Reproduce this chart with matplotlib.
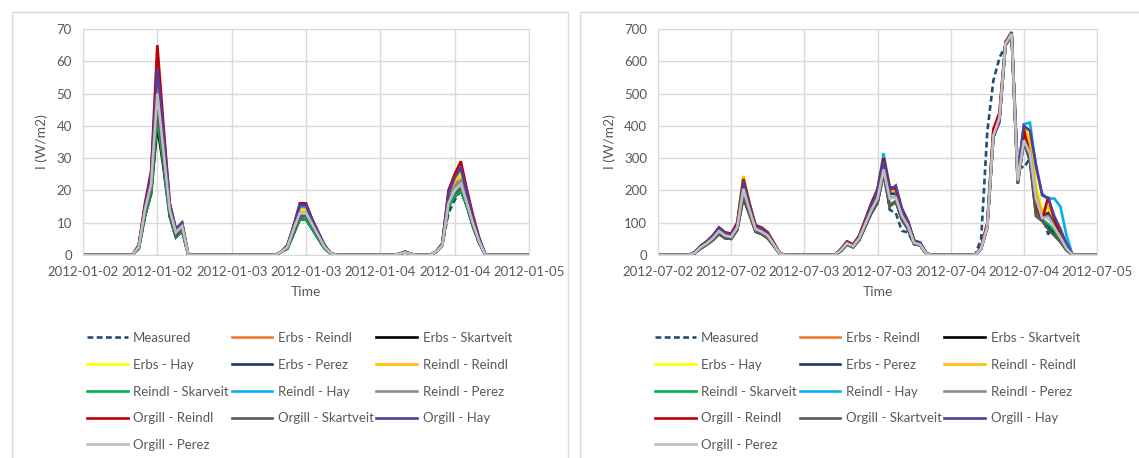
import matplotlib.pyplot as plt
import numpy as np
from matplotlib.patches import Rectangle

plt.rcParams['font.family'] = ['Lato', 'DejaVu Sans']

# series names (legend order)
names = ['Measured', 'Erbs - Reindl', 'Erbs - Skartveit', 'Erbs - Hay', 'Erbs - Perez',
         'Reindl - Reindl', 'Reindl - Skarveit', 'Reindl - Hay', 'Reindl - Perez',
         'Orgill - Reindl', 'Orgill - Skartveit', 'Orgill - Hay', 'Orgill - Perez']
colors = ['#1F4E79', '#ED7D31', '#000000', '#FFFF00', '#203864',
          '#FFC000', '#00B050', '#00B0F0', '#8C8C8C',
          '#C00000', '#595959', '#553C9A', '#BFBFBF']

# x tick labels (every 12 h)
jan_ticks = ['2012-01-02', '2012-01-02', '2012-01-03', '2012-01-03', '2012-01-04', '2012-01-04', '2012-01-05']
jul_ticks = ['2012-07-02', '2012-07-02', '2012-07-03', '2012-07-03', '2012-07-04', '2012-07-04', '2012-07-05']

# ---- January, hours with daylight (other hours are 0)
jan_hours = [8, 9, 10, 11, 12, 13, 14, 15, 16, 17,
             32, 33, 34, 35, 36, 37, 38, 39, 40, 41,
             51, 52, 53, 54, 55, 56, 57, 58, 59, 60, 61, 62, 63, 64, 65]

jan_measured = [0, 2, 12, 20, 44, 28, 12, 5.5, 7.5, 0,
                1, 2, 7, 12, 12, 8.5, 5, 2, 0.5, 0,
                0.3, 0.8, 0.3, 0, 0, 0, 1, 3, 13, 17, 20, 15, 8.5, 3.5, 0]
jan_erbs_reindl = [0, 3, 15, 24, 54, 35, 15, 7, 9, 0,
                   1, 3, 8.5, 14, 14, 10, 6, 3, 0.5, 0,
                   0.3, 1, 0.3, 0, 0, 0, 1, 3.5, 18, 22, 25, 18, 10, 4.5, 0]
jan_erbs_skartveit = [0, 2, 12, 19, 40, 27, 12, 5.5, 7.5, 0,
                      1, 2, 6.5, 11, 11, 8, 5, 2, 0.5, 0,
                      0.3, 0.8, 0.3, 0, 0, 0, 1, 3, 15, 18, 20, 15, 8.5, 3.5, 0]
jan_erbs_hay = [0, 3, 15, 24, 55, 36, 15, 7.5, 9.5, 0,
                1, 3, 8.5, 14, 14, 10, 6.5, 3, 0.5, 0,
                0.3, 1, 0.3, 0, 0, 0, 1, 3.5, 18, 23, 25, 18, 10.5, 4.5, 0]
jan_erbs_perez = [0, 2.5, 14, 22, 50, 33, 14, 7, 9, 0,
                  1, 2.5, 8, 13, 13, 9.5, 6, 2.5, 0.5, 0,
                  0.3, 0.8, 0.3, 0, 0, 0, 1, 3, 17, 21, 23, 17, 10, 4, 0]
jan_reindl_reindl = [0, 3, 15, 24, 56, 36, 15, 7.5, 9.5, 0,
                     1, 3, 8.5, 14.5, 14.5, 10, 6.5, 3, 0.5, 0,
                     0.3, 1, 0.3, 0, 0, 0, 1, 3.5, 18, 23, 26, 18, 10.5, 4.5, 0]
jan_reindl_skarveit = [0, 2, 12, 19, 42, 28, 12, 5.5, 7.5, 0,
                       1, 2, 6.5, 11, 11, 8, 5, 2, 0.5, 0,
                       0.3, 0.8, 0.3, 0, 0, 0, 1, 3, 15, 18, 20, 15, 8.5, 3.5, 0]
jan_reindl_hay = [0, 3, 15, 25, 58, 37, 15, 7.5, 9.5, 0,
                  1, 3, 8.5, 15, 15, 10.5, 6.5, 3, 0.5, 0,
                  0.3, 1, 0.3, 0, 0, 0, 1, 3.5, 19, 24, 27, 19, 11, 4.5, 0]
jan_reindl_perez = [0, 2.5, 14, 22, 52, 33, 14, 7, 9, 0,
                    1, 2.5, 8, 13, 13, 9.5, 6, 2.5, 0.5, 0,
                    0.3, 0.8, 0.3, 0, 0, 0, 1, 3, 17, 21, 23, 17, 10, 4, 0]
jan_orgill_reindl = [0, 3, 16, 26, 65, 40, 16, 8, 10, 0,
                     1, 3, 9, 16, 16, 11, 7, 3, 0.5, 0,
                     0.3, 1, 0.3, 0, 0, 0, 1, 3.5, 20, 25, 29, 20, 12, 5, 0]
jan_orgill_skartveit = [0, 2.5, 13, 20, 45, 30, 13, 6, 8, 0,
                        1, 2.5, 7, 12, 12, 9, 5.5, 2.5, 0.5, 0,
                        0.3, 0.8, 0.3, 0, 0, 0, 1, 3, 16, 19, 21, 16, 9, 4, 0]
jan_orgill_hay = [0, 3, 15, 25, 58, 38, 16, 8, 10, 0,
                  1, 3, 9, 15.5, 15.5, 11, 7, 3, 0.5, 0,
                  0.3, 1, 0.3, 0, 0, 0, 1, 3.5, 19, 24, 27, 19, 11, 5, 0]
jan_orgill_perez = [0, 2.5, 14, 22, 50, 32, 14, 7, 9, 0,
                    1, 2.5, 8, 13, 13, 9.5, 6, 2.5, 0.5, 0,
                    0.3, 0.8, 0.3, 0, 0, 0, 1, 3, 16, 20, 22, 16, 9.5, 4, 0]

# ---- July
jul_hours = [5, 6, 7, 8, 9, 10, 11, 12, 13, 14, 15, 16, 17, 18, 19, 20, 21,
             29, 30, 31, 32, 33, 34, 35, 36, 37, 38, 39, 40, 41, 42, 43, 44, 45,
             52, 53, 54, 55, 56, 57, 58, 59, 60, 61, 62, 63, 64, 65, 66, 67, 68]

jul_measured = [0, 6, 22, 35, 50, 70, 56, 54, 85, 190, 135, 78, 70, 56, 30, 3, 0,
                0, 14, 35, 26, 50, 95, 140, 175, 270, 140, 130, 75, 70, 34, 30, 3, 0,
                0, 50, 380, 540, 610, 650, 685, 280, 270, 300, 190, 120, 65, 90, 50, 20, 0]
jul_erbs_reindl = [0, 8, 28, 42, 60, 84, 69, 65, 100, 243, 160, 92, 84, 70, 37, 5, 0,
                   0, 18, 42, 32, 60, 108, 158, 200, 290, 200, 200, 138, 100, 43, 37, 5, 0,
                   0, 22, 95, 385, 440, 660, 690, 235, 390, 350, 200, 125, 145, 105, 65, 22, 0]
jul_erbs_skartveit = [0, 5, 20, 32, 46, 65, 52, 50, 78, 178, 126, 72, 65, 52, 28, 3, 0,
                      0, 12, 32, 24, 46, 88, 130, 162, 252, 152, 165, 110, 80, 34, 30, 3, 0,
                      0, 20, 85, 365, 420, 650, 680, 222, 350, 295, 125, 108, 88, 65, 42, 15, 0]
jul_erbs_hay = [0, 8, 28, 42, 60, 84, 69, 66, 100, 245, 160, 92, 84, 70, 37, 5, 0,
                0, 18, 42, 32, 60, 108, 158, 200, 295, 205, 205, 140, 102, 44, 37, 5, 0,
                0, 22, 95, 380, 430, 660, 690, 240, 400, 370, 220, 140, 140, 120, 80, 25, 0]
jul_erbs_perez = [0, 7, 25, 38, 55, 78, 62, 58, 90, 215, 148, 85, 76, 63, 33, 4, 0,
                  0, 16, 38, 28, 54, 100, 148, 185, 280, 190, 190, 130, 95, 40, 34, 4, 0,
                  0, 20, 90, 375, 430, 655, 685, 235, 370, 330, 190, 120, 130, 95, 60, 20, 0]
jul_reindl_reindl = [0, 8, 28, 42, 60, 85, 70, 66, 100, 245, 160, 92, 84, 70, 37, 5, 0,
                     0, 18, 42, 32, 60, 110, 160, 200, 290, 205, 200, 140, 102, 44, 37, 5, 0,
                     0, 22, 95, 385, 440, 660, 690, 240, 395, 350, 200, 130, 150, 110, 70, 25, 0]
jul_reindl_skarveit = [0, 5, 21, 33, 47, 66, 53, 51, 80, 180, 128, 74, 66, 54, 29, 3, 0,
                       0, 13, 33, 25, 47, 90, 132, 165, 255, 155, 168, 112, 82, 35, 31, 3, 0,
                       0, 20, 85, 365, 420, 650, 680, 225, 355, 300, 130, 110, 95, 75, 45, 15, 0]
jul_reindl_hay = [0, 8, 27, 40, 58, 82, 66, 63, 95, 232, 155, 88, 80, 66, 35, 5, 0,
                  0, 18, 40, 30, 58, 108, 160, 200, 315, 210, 205, 135, 100, 42, 36, 5, 0,
                  0, 20, 90, 375, 420, 660, 685, 240, 405, 410, 270, 190, 175, 175, 150, 60, 0]
jul_reindl_perez = [0, 6, 24, 36, 52, 75, 60, 56, 86, 205, 142, 82, 73, 60, 32, 4, 0,
                    0, 15, 36, 27, 52, 96, 142, 178, 270, 180, 180, 125, 90, 38, 32, 4, 0,
                    0, 20, 88, 370, 425, 655, 685, 230, 360, 320, 180, 115, 120, 90, 55, 20, 0]
jul_orgill_reindl = [0, 8, 28, 42, 60, 85, 70, 66, 100, 235, 160, 92, 85, 70, 38, 5, 0,
                     0, 18, 42, 32, 60, 110, 160, 205, 300, 210, 205, 140, 105, 45, 38, 5, 0,
                     0, 25, 100, 390, 440, 660, 690, 240, 390, 300, 150, 110, 180, 110, 60, 25, 0]
jul_orgill_skartveit = [0, 5, 20, 32, 46, 65, 52, 50, 78, 175, 125, 72, 65, 52, 28, 3, 0,
                        0, 12, 32, 24, 46, 88, 130, 160, 250, 150, 165, 110, 80, 34, 30, 3, 0,
                        0, 20, 85, 365, 420, 650, 680, 220, 350, 290, 120, 105, 80, 60, 40, 15, 0]
jul_orgill_hay = [0, 8, 28, 42, 60, 85, 68, 64, 95, 230, 155, 90, 82, 68, 36, 5, 0,
                  0, 18, 40, 30, 58, 105, 155, 200, 290, 200, 215, 145, 105, 45, 38, 5, 0,
                  0, 20, 90, 365, 410, 655, 690, 250, 400, 385, 280, 185, 175, 120, 80, 35, 0]
jul_orgill_perez = [0, 6, 24, 36, 52, 74, 60, 56, 86, 205, 140, 80, 72, 60, 32, 4, 0,
                    0, 15, 36, 27, 52, 96, 140, 175, 265, 175, 178, 122, 90, 38, 32, 4, 0,
                    0, 20, 88, 370, 425, 655, 685, 230, 355, 315, 175, 115, 115, 85, 55, 20, 0]

jan_series = [jan_measured, jan_erbs_reindl, jan_erbs_skartveit, jan_erbs_hay, jan_erbs_perez,
              jan_reindl_reindl, jan_reindl_skarveit, jan_reindl_hay, jan_reindl_perez,
              jan_orgill_reindl, jan_orgill_skartveit, jan_orgill_hay, jan_orgill_perez]
jul_series = [jul_measured, jul_erbs_reindl, jul_erbs_skartveit, jul_erbs_hay, jul_erbs_perez,
              jul_reindl_reindl, jul_reindl_skarveit, jul_reindl_hay, jul_reindl_perez,
              jul_orgill_reindl, jul_orgill_skartveit, jul_orgill_hay, jul_orgill_perez]

W, H = 1139, 458
fig = plt.figure(figsize=(W / 100, H / 100), dpi=100)

GRID = '#D9D9D9'
TXT = '#595959'

# panel frames
for x0, x1 in [(12, 568), (580, 1145)]:
    fig.patches.append(Rectangle((x0 / W, -0.05), (x1 - x0) / W, 1.05 - 12 / H,
                                 transform=fig.transFigure, fill=False,
                                 edgecolor=GRID, lw=1))


def panel(rect, hours, series, ymax, ystep, ticks, legend_x):
    ax = fig.add_axes([rect[0] / W, 1 - rect[3] / H, (rect[2] - rect[0]) / W, (rect[3] - rect[1]) / H])
    t = np.arange(73)
    handles = []
    for vals, name, c in zip(series, names, colors):
        y = np.zeros(73)
        y[hours] = vals
        ls = (0, (2.2, 1.3)) if name == 'Measured' else '-'
        h, = ax.plot(t, y, color=c, lw=1.9, ls=ls, label=name, solid_joinstyle='miter')
        handles.append(h)
    ax.set_xlim(0, 72)
    ax.set_ylim(0, ymax)
    ax.set_xticks(np.arange(0, 73, 12))
    ax.set_xticklabels(ticks)
    ax.set_yticks(np.arange(0, ymax + 1, ystep))
    ax.grid(True, color=GRID, lw=1)
    ax.set_axisbelow(True)
    for s in ax.spines.values():
        s.set_color(GRID)
    ax.tick_params(length=0, labelsize=9.5, colors=TXT, pad=8)
    ax.set_xlabel('Time', fontsize=10, color=TXT, labelpad=6)
    ax.set_ylabel('I (W/m2)', fontsize=10, color=TXT, labelpad=6)
    order = [0, 3, 6, 9, 12, 1, 4, 7, 10, 2, 5, 8, 11]
    fig.legend([handles[i] for i in order], [names[i] for i in order],
               loc='upper left', bbox_to_anchor=(legend_x / W, 1 - 332 / H),
               ncols=3, frameon=False, fontsize=9.5, labelcolor=TXT,
               handlelength=3.1, handletextpad=0.4, columnspacing=0.2,
               labelspacing=1.12, borderpad=0, borderaxespad=0)
    return ax


panel((83, 29, 529, 255), jan_hours, jan_series, 70, 10, jan_ticks, 87)
panel((658, 29, 1097, 255), jul_hours, jul_series, 700, 100, jul_ticks, 655)

fig.savefig('out.png', dpi=100)
